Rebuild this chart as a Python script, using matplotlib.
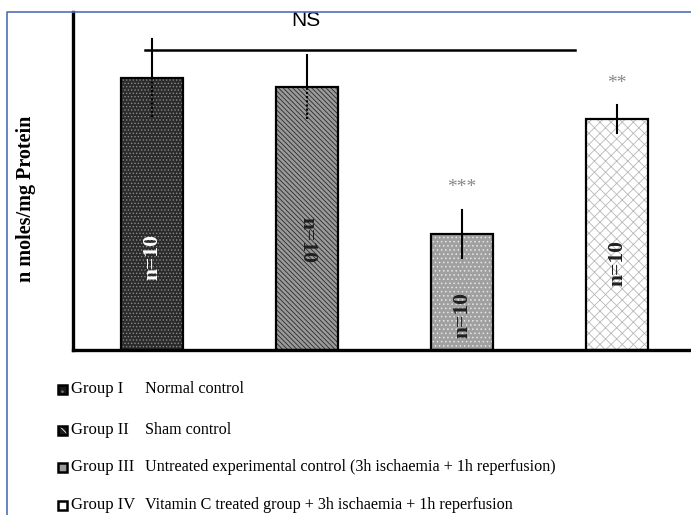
import matplotlib as mpl
mpl.use('Agg')
import matplotlib.pyplot as plt
from matplotlib.patches import Rectangle
from matplotlib.lines import Line2D

# data (arbitrary units, y-axis is unlabelled in the source)
groups = ['Group I', 'Group II', 'Group III', 'Group IV']
descriptions = ['Normal control',
                'Sham control',
                'Untreated experimental control (3h ischaemia + 1h reperfusion)',
                'Vitamin C treated group + 3h ischaemia + 1h reperfusion']
means = [2.72, 2.63, 1.16, 2.31]
errors = [0.39, 0.32, 0.24, 0.14]
n_labels = ['n=10', 'n=10', 'n=10', 'n=10']
stars = ['', '', '***', '**']

faces = ['#2b2b2b', '#9a9a9a', '#a0a0a0', '#ffffff']
hatch_cols = ['#8a8a8a', '#2a2a2a', '#e6e6e6', '#b8b8b8']
hatches = ['.....', '\\\\\\\\\\\\\\', '....', 'xxx']
n_rot = [90, -90, 90, 90]
n_col = ['white', '#202020', '#202020', '#202020']
n_y = [0.93, 1.10, 0.35, 0.87]
err_low_style = [(0, (1, 1)), (0, (1, 1)), '-', '-']

# small legend swatches
sw_faces = ['#1a1a1a', '#1a1a1a', '#9a9a9a', '#ffffff']
sw_hatch = ['..', '\\\\', '', '']
sw_hcol = ['#777777', '#ffffff', '#9a9a9a', '#ffffff']

serif = 'Liberation Serif'
mpl.rcParams['hatch.linewidth'] = 0.6

W, H = 691, 515
fig = plt.figure(figsize=(W / 100, H / 100), dpi=100)
ax = fig.add_axes([73 / W, 1 - 350 / H, 1 - 73 / W, (350 - 12) / H])

x = list(range(len(means)))
for i in x:
    ax.bar(i, means[i], width=0.4, color=faces[i], hatch=hatches[i],
           edgecolor=hatch_cols[i], linewidth=0, zorder=2)
    ax.bar(i, means[i], width=0.4, fill=False, edgecolor='black',
           linewidth=1.6, zorder=3)
    ax.plot([i, i], [means[i], means[i] + errors[i]],
            color='black', lw=1.5, zorder=4)
    ax.plot([i, i], [means[i] - errors[i], means[i]],
            color='black', lw=1.5, ls=err_low_style[i], zorder=4)
    ax.text(i, n_y[i], n_labels[i], rotation=n_rot[i], ha='center', va='center',
            color=n_col[i], fontsize=15.5, fontweight='bold', family=serif, zorder=5)
    if stars[i]:
        ax.text(i, means[i] + errors[i] + 0.22, stars[i], ha='center', va='center',
                color='#888888', fontsize=14, family=serif)

# NS bracket
ax.plot([-0.045, 2.73], [3.0, 3.0], color='black', lw=1.8, zorder=4)
ax.text(0.99, 3.30, 'NS', ha='center', va='center', fontsize=15,
        family='Liberation Sans')

ax.set_xlim(-0.51, 3.477)
ax.set_ylim(0, 3.38)
ax.set_xticks([])
ax.set_yticks([])
for s in ['top', 'right']:
    ax.spines[s].set_visible(False)
for s in ['left', 'bottom']:
    ax.spines[s].set_linewidth(2.4)
ax.set_ylabel('n moles/mg Protein', fontsize=14.5, fontweight='bold', family=serif)
ax.yaxis.set_label_coords(-37 / (W - 73), 0.447)

# legend at the bottom
row_y = [389, 430, 467, 505]
for i, yy in enumerate(row_y):
    box = (58 / W, 1 - (yy + 4.5) / H)
    fig.add_artist(Rectangle(box, 9 / W, 9 / H, transform=fig.transFigure,
                             facecolor=sw_faces[i], hatch=sw_hatch[i],
                             edgecolor=sw_hcol[i], lw=0))
    fig.add_artist(Rectangle(box, 9 / W, 9 / H, transform=fig.transFigure,
                             fill=False, edgecolor='black', lw=1.8))
    fig.text(71 / W, 1 - yy / H, groups[i], ha='left', va='center',
             fontsize=12, family=serif)
    fig.text(145 / W, 1 - yy / H, descriptions[i], ha='left', va='center',
             fontsize=11.6, family=serif)

# blue frame of the original scan
fig.add_artist(Line2D([7 / W, 7 / W, 1], [0, 1 - 12 / H, 1 - 12 / H],
                      transform=fig.transFigure, color='#4f6fb8', lw=1.2))

fig.savefig('out.png', dpi=100)
